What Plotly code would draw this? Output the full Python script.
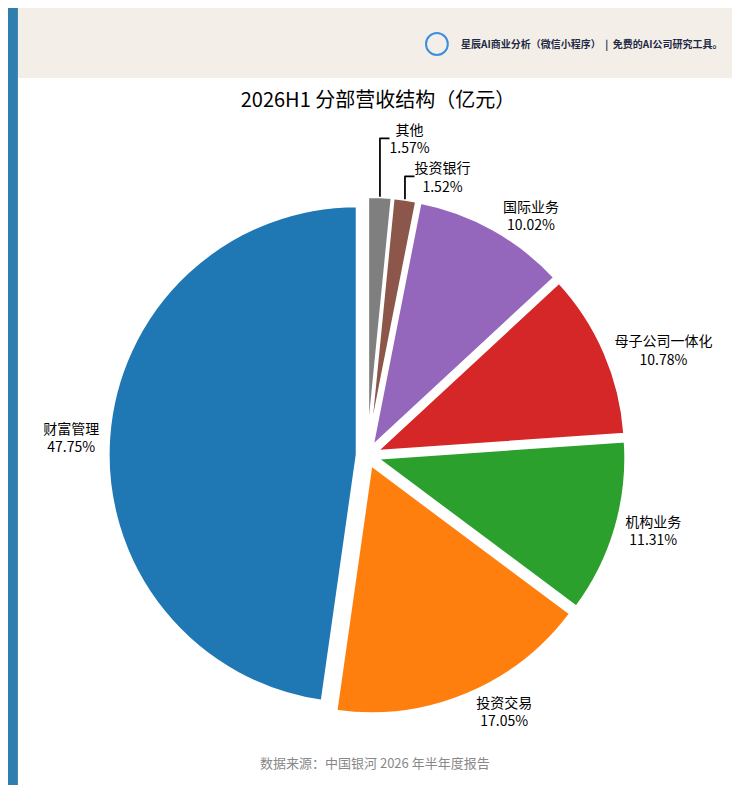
import plotly.graph_objects as go

labels = ["其他", "投资银行", "国际业务", "母子公司一体化", "机构业务", "投资交易", "财富管理"]
values = [1.57, 1.52, 10.02, 10.78, 11.31, 17.05, 47.75]
colors = ["#7f7f7f", "#8c564b", "#9467bd", "#d62728", "#2ca02c", "#ff7f0e", "#1f77b4"]

fig = go.Figure(go.Pie(
    labels=labels, values=values, sort=False, direction="clockwise", rotation=0,
    marker=dict(colors=colors, line=dict(color="white", width=3)),
    pull=[0.04]*len(values),
    textposition="outside", texttemplate="%{label}<br>%{percent:.2%}",
    textfont=dict(size=14, color="black"), showlegend=False,
    domain=dict(x=[0.13, 0.85], y=[0.1, 0.76]),
))
fig.update_layout(
    width=740, height=785, paper_bgcolor="white", margin=dict(l=0, r=0, t=0, b=0),
    font=dict(family="Noto Sans CJK SC"),
    title=dict(text="2026H1 分部营收结构（亿元）", x=0.5, y=1-92/785, xanchor="center", yanchor="middle",
               font=dict(size=20, color="black")),
    shapes=[
        dict(type="rect", xref="paper", yref="paper", x0=0, x1=1, y0=1-70/785, y1=1,
             fillcolor="#f3efe8", line_width=0, layer="below"),
        dict(type="rect", xref="paper", yref="paper", x0=0, x1=10/740, y0=0, y1=1,
             fillcolor="#2e7fae", line_width=0),
        dict(type="circle", xref="paper", yref="paper", x0=422/740, x1=444/740,
             y0=1-47/785, y1=1-25/785, line=dict(color="#3b8fe0", width=2)),
    ],
    annotations=[
        dict(text="<b>星辰AI商业分析（微信小程序）  |  免费的AI公司研究工具。</b>", xref="paper", yref="paper",
             x=455/740, y=1-36/785, xanchor="left", yanchor="middle", showarrow=False,
             font=dict(size=10, color="#1f2a44")),
        dict(text="数据来源：中国银河 2026 年半年度报告", xref="paper", yref="paper",
             x=0.5, y=1-766/785, showarrow=False, font=dict(size=13, color="#888888")),
    ],
)
fig.write_html("out.html", config={"displayModeBar": False})
